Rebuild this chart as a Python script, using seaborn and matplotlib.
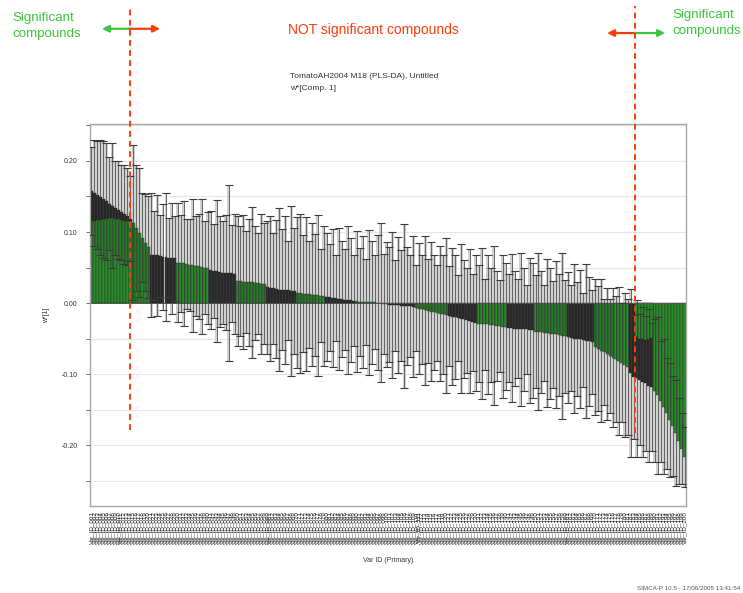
import numpy as np
import pandas as pd
import matplotlib
matplotlib.use("Agg")
import matplotlib.pyplot as plt
import seaborn as sns

# ---- data: w*[1] loadings of component 1, sorted by size ----
w_values = [
    # black run
    0.158, 0.155, 0.152, 0.149, 0.146, 0.143, 0.140, 0.137, 0.134, 0.131, 0.128, 0.125, 0.122, 0.119,
    # green
    0.113, 0.106, 0.099, 0.092, 0.085, 0.079,
    # black
    0.068, 0.067, 0.067, 0.066, 0.065, 0.065, 0.064, 0.063, 0.063,
    # green
    0.057, 0.056, 0.056, 0.055, 0.054, 0.053, 0.052, 0.052, 0.051, 0.050, 0.049,
    # black
    0.046, 0.045, 0.045, 0.044, 0.043, 0.043, 0.042, 0.042, 0.041,
    # green
    0.031, 0.031, 0.030, 0.030, 0.029, 0.029, 0.028, 0.028, 0.027, 0.027,
    # black
    0.022, 0.021, 0.021, 0.020, 0.019, 0.019, 0.018, 0.018, 0.017, 0.017,
    # green
    0.0145, 0.014, 0.0135, 0.013, 0.0125, 0.012, 0.0115, 0.011, 0.0105, 0.010,
    # black
    0.0085, 0.008, 0.0075, 0.007, 0.006, 0.0055, 0.005, 0.0045, 0.004, 0.0035,
    # green
    0.0025, 0.002, 0.002, 0.0015, 0.0015, 0.001, 0.001, 0.0005, 0.0003,
    # black
    -0.001, -0.0015, -0.002, -0.0025, -0.003, -0.003, -0.0035, -0.004, -0.004, -0.0045, -0.005,
    # green
    -0.007, -0.008, -0.009, -0.010, -0.011, -0.012, -0.013, -0.014, -0.015, -0.016, -0.017,
    # black
    -0.018, -0.019, -0.020, -0.021, -0.022, -0.023, -0.024, -0.025, -0.027, -0.028,
    # green
    -0.029, -0.029, -0.030, -0.030, -0.031, -0.031, -0.032, -0.032, -0.033, -0.033,
    # black
    -0.035, -0.035, -0.036, -0.036, -0.037, -0.037, -0.037, -0.038, -0.038,
    # green
    -0.040, -0.040, -0.041, -0.042, -0.042, -0.043, -0.044, -0.044, -0.045, -0.046, -0.047,
    # black
    -0.048, -0.049, -0.050, -0.051, -0.051, -0.052, -0.053, -0.054, -0.055,
    # green
    -0.062, -0.064, -0.067, -0.069, -0.072, -0.074, -0.077, -0.079, -0.082, -0.084, -0.087, -0.090,
    # black
    -0.098, -0.104, -0.106, -0.108, -0.111, -0.113, -0.116, -0.118,
    # green
    -0.123, -0.130, -0.138, -0.146, -0.155, -0.164, -0.173, -0.183, -0.194, -0.205, -0.217,
]

# variable class runs, in plotting order
class_runs = [
    ("Class 2", 14), ("Class 1", 6), ("Class 2", 9), ("Class 1", 11), ("Class 2", 9),
    ("Class 1", 10), ("Class 2", 10), ("Class 1", 10), ("Class 2", 10), ("Class 1", 9),
    ("Class 2", 11), ("Class 1", 11), ("Class 2", 10), ("Class 1", 10), ("Class 2", 9),
    ("Class 1", 11), ("Class 2", 9), ("Class 1", 12), ("Class 2", 8), ("Class 1", 11),
]

# overlapping class-1 columns drawn in front of class-2 columns
overlay_index = [0, 1, 2, 3, 4, 5, 6, 7, 8, 9, 10, 11, 12, 13, 183, 184, 185, 186, 187, 188]
overlay_w = [0.116, 0.116, 0.117, 0.117, 0.118, 0.119, 0.120, 0.120, 0.119, 0.118, 0.117, 0.116,
             0.116, 0.115, -0.048, -0.050, -0.051, -0.052, -0.050, -0.049]

# jack-knife confidence interval half widths
ci_half = [
    0.062, 0.075, 0.076, 0.081, 0.082, 0.082, 0.065, 0.088, 0.066, 0.069,
    0.067, 0.070, 0.068, 0.060, 0.109, 0.089, 0.091, 0.063, 0.068, 0.072,
    0.087, 0.062, 0.085, 0.058, 0.075, 0.090, 0.056, 0.078, 0.060, 0.084,
    0.068, 0.088, 0.064, 0.065, 0.093, 0.070, 0.074, 0.095, 0.066, 0.079,
    0.083, 0.066, 0.100, 0.078, 0.072, 0.081, 0.124, 0.068, 0.085, 0.091,
    0.077, 0.094, 0.072, 0.089, 0.106, 0.080, 0.071, 0.099, 0.085, 0.093,
    0.102, 0.078, 0.097, 0.115, 0.085, 0.104, 0.070, 0.120, 0.088, 0.106,
    0.112, 0.083, 0.108, 0.075, 0.101, 0.086, 0.113, 0.065, 0.098, 0.090,
    0.075, 0.097, 0.060, 0.100, 0.082, 0.071, 0.104, 0.087, 0.064, 0.099,
    0.076, 0.093, 0.060, 0.102, 0.087, 0.066, 0.095, 0.112, 0.070, 0.088,
    0.081, 0.103, 0.064, 0.096, 0.078, 0.115, 0.083, 0.072, 0.099, 0.060,
    0.092, 0.077, 0.105, 0.073, 0.098, 0.081, 0.068, 0.095, 0.084, 0.109,
    0.070, 0.096, 0.087, 0.061, 0.105, 0.083, 0.074, 0.101, 0.068, 0.096,
    0.082, 0.106, 0.064, 0.098, 0.080, 0.112, 0.077, 0.065, 0.100, 0.089,
    0.076, 0.104, 0.081, 0.070, 0.108, 0.087, 0.063, 0.102, 0.095, 0.079,
    0.111, 0.086, 0.068, 0.104, 0.092, 0.075, 0.103, 0.086, 0.117, 0.079,
    0.092, 0.074, 0.105, 0.080, 0.097, 0.066, 0.108, 0.091, 0.073, 0.096,
    0.088, 0.101, 0.075, 0.093, 0.080, 0.098, 0.089, 0.104, 0.084, 0.101,
    0.096, 0.118, 0.087, 0.110, 0.092, 0.105, 0.095, 0.108, 0.090, 0.100,
    0.110, 0.085, 0.095, 0.078, 0.080, 0.070, 0.075, 0.060, 0.050, 0.042,
]

var_class = [c for c, k in class_runs for _ in range(k)]
var_ids = [f"Var_ID_{k + 1:03d}" for k in range(len(w_values))]

palette = {"Class 1": "#2e8b2e", "Class 2": "#2b2b2b"}
sig_green = "#3cc43c"
sig_red = "#ff3b0a"

sns.set_style("white")
plt.rcParams["font.family"] = ["Liberation Sans", "DejaVu Sans"]

fig = plt.figure(figsize=(7.43, 5.93), dpi=100)
ax = fig.add_axes([90 / 743, 1 - 506 / 593, 596 / 743, 382 / 593])

df = pd.DataFrame({"var_id": var_ids, "w": w_values, "cls": var_class, "ci": ci_half})
pos = np.arange(len(df))
lo = df["w"] - df["ci"]

# confidence interval band per column
ax.bar(pos, 2 * df["ci"], bottom=lo, width=1.0, color="#d0d0d0", linewidth=0, zorder=1)

sns.barplot(data=df, x="var_id", y="w", hue="cls", order=var_ids,
            hue_order=["Class 1", "Class 2"], palette=palette, dodge=False,
            width=1.0, errorbar=None, legend=False, saturation=1,
            edgecolor="#1c1c1c", linewidth=0.25, ax=ax, zorder=2)

ax.bar(overlay_index, overlay_w, width=1.0, color=palette["Class 1"],
       edgecolor="#1c1c1c", linewidth=0.25, zorder=2.2)

ax.errorbar(pos, df["w"], yerr=df["ci"], fmt="none", ecolor="#3a3a3a",
            elinewidth=0.5, capsize=3, capthick=0.8, zorder=3)

ax.axhline(0, color="#555555", lw=0.7, zorder=2.5)

ax.set_xlim(-0.5, len(df) - 0.5)
ax.set_ylim(-0.2855, 0.252)
ax.set_yticks([-0.2, -0.1, 0.0, 0.1, 0.2])
ax.set_yticklabels(["-0.20", "-0.10", "0.00", "0.10", "0.20"])
ax.set_yticks(np.arange(-0.25, 0.26, 0.05), minor=True)
ax.grid(axis="y", which="both", color="#e6e6e6", lw=0.8)
ax.set_axisbelow(True)
ax.tick_params(axis="y", which="both", direction="out", length=3, width=0.6,
               color="#555555", labelsize=5, labelcolor="#333333", pad=6, left=True)
ax.tick_params(axis="x", length=0, labelsize=4.5, labelcolor="#222222", pad=4)
for lab in ax.get_xticklabels():
    lab.set_rotation(90)
ax.set_xlabel("")
ax.set_ylabel("w*[1]", fontsize=5, color="#333333", labelpad=8)
for side in ("left", "right", "top", "bottom"):
    ax.spines[side].set_color("#a8a8a8")
    ax.spines[side].set_linewidth(1.0)

fig.text(388 / 743, 1 - 560 / 593, "Var ID (Primary)", ha="center", va="center",
         fontsize=5, color="#333333")
fig.text(740 / 743, 1 - 589 / 593, "SIMCA-P 10.5 - 17/06/2005 13:41:54", ha="right",
         va="center", fontsize=4.5, color="#555555")
fig.text(290 / 743, 1 - 76 / 593, "TomatoAH2004 M18 (PLS-DA), Untitled", ha="left",
         va="center", fontsize=6, color="#333333")
fig.text(290 / 743, 1 - 89 / 593, "w*[Comp. 1]", ha="left", va="center",
         fontsize=6, color="#333333")

# significance annotations
for x_px, y_px, txt in ((12, 18, "Significant"), (12, 34, "compounds"),
                        (672, 15, "Significant"), (672, 31, "compounds")):
    fig.text(x_px / 743, 1 - y_px / 593, txt, ha="left", va="center",
             fontsize=9.6, color=sig_green)
fig.text(373 / 743, 1 - 30 / 593, "NOT significant compounds", ha="center", va="center",
         fontsize=10, color=sig_red)

cut_left, cut_right = 12.9, 182.4
for xc, yb in ((cut_left, -0.179), (cut_right, -0.183)):
    ax.plot([xc, xc], [yb, 0.418], color=sig_red, lw=1.4, ls=(0, (3, 2.2)),
            clip_on=False, zorder=5)

arrow_kw = dict(arrowstyle="-|>", lw=1.6, mutation_scale=10, shrinkA=0, shrinkB=0)
ax.annotate("", xy=(3.5, 0.386), xytext=(cut_left, 0.386), annotation_clip=False,
            arrowprops=dict(color=sig_green, **arrow_kw))
ax.annotate("", xy=(23.0, 0.386), xytext=(cut_left, 0.386), annotation_clip=False,
            arrowprops=dict(color=sig_red, **arrow_kw))
ax.annotate("", xy=(173.0, 0.380), xytext=(cut_right, 0.380), annotation_clip=False,
            arrowprops=dict(color=sig_red, **arrow_kw))
ax.annotate("", xy=(192.5, 0.380), xytext=(cut_right, 0.380), annotation_clip=False,
            arrowprops=dict(color=sig_green, **arrow_kw))

fig.savefig("out.png", dpi=100)
